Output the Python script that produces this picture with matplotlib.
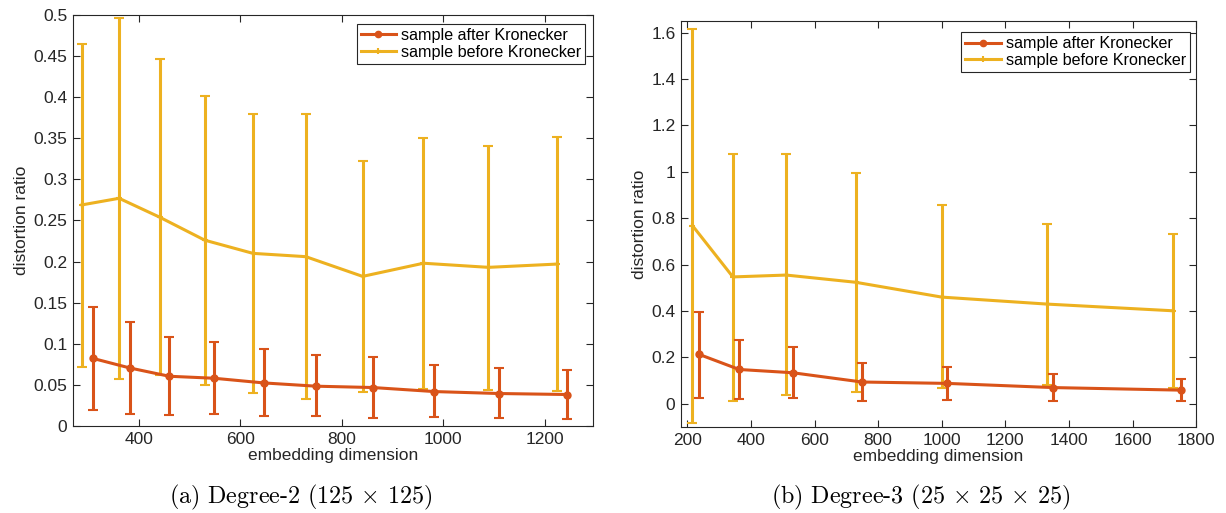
import matplotlib
matplotlib.use("Agg")
import numpy as np
from matplotlib import pyplot as plt
from matplotlib.lines import Line2D
from matplotlib.ticker import FuncFormatter

# Degree-2 (125 x 125)
deg2_dim_before = [288, 361, 441, 530, 625, 729, 841, 961, 1089, 1225]
deg2_mean_before = [0.269, 0.277, 0.254, 0.226, 0.210, 0.206, 0.182, 0.198, 0.193, 0.197]
deg2_hi_before = [0.4645, 0.4968, 0.4464, 0.4016, 0.3794, 0.3794, 0.3222, 0.3504, 0.3403, 0.3516]
deg2_lo_before = [0.0722, 0.0573, 0.0625, 0.0500, 0.0407, 0.0331, 0.0411, 0.0448, 0.0440, 0.0427]

deg2_dim_after = [309, 382, 460, 548, 646, 750, 861, 982, 1110, 1244]
deg2_mean_after = [0.0823, 0.0706, 0.0605, 0.0581, 0.0524, 0.0484, 0.0468, 0.0419, 0.0395, 0.0383]
deg2_hi_after = [0.1452, 0.1262, 0.1081, 0.1024, 0.0931, 0.0863, 0.0835, 0.0738, 0.0710, 0.0677]
deg2_lo_after = [0.0194, 0.0149, 0.0129, 0.0145, 0.0117, 0.0117, 0.0101, 0.0105, 0.0097, 0.0085]

# Degree-3 (25 x 25 x 25)
deg3_dim_before = [216, 343, 511, 729, 1000, 1330, 1728]
deg3_mean_before = [0.768, 0.547, 0.555, 0.524, 0.460, 0.430, 0.401]
deg3_hi_before = [1.617, 1.075, 1.075, 0.996, 0.855, 0.776, 0.732]
deg3_lo_before = [-0.082, 0.013, 0.036, 0.049, 0.069, 0.081, 0.068]

deg3_dim_after = [237, 363, 531, 749, 1018, 1351, 1751]
deg3_mean_after = [0.213, 0.148, 0.134, 0.094, 0.088, 0.070, 0.059]
deg3_hi_after = [0.397, 0.275, 0.246, 0.174, 0.157, 0.130, 0.109]
deg3_lo_after = [0.027, 0.020, 0.027, 0.012, 0.017, 0.012, 0.012]

red = '#D95319'
yellow = '#EDB120'
axcol = '#262626'

plt.rcParams['font.family'] = ['Liberation Sans', 'DejaVu Sans']
plt.rcParams['mathtext.fontset'] = 'cm'

fig = plt.figure(figsize=(12.26, 5.13), dpi=100)
ax1 = fig.add_axes([0.0595, 0.1696, 0.4241, 0.8012])
ax2 = fig.add_axes([0.5555, 0.1676, 0.4201, 0.7914])


def draw_err(ax, x, mean, lo, hi, color, marker, ms, z):
    mean = np.array(mean)
    err = [mean - np.array(lo), np.array(hi) - mean]
    ax.errorbar(x, mean, yerr=err, color=color, lw=2.2, marker=marker, ms=ms,
                mew=1.5, elinewidth=2.2, capsize=3.4, capthick=2.2, zorder=z)


draw_err(ax1, deg2_dim_before, deg2_mean_before, deg2_lo_before, deg2_hi_before,
         yellow, '+', 5, 2)
draw_err(ax1, deg2_dim_after, deg2_mean_after, deg2_lo_after, deg2_hi_after,
         red, 'o', 4.5, 3)
draw_err(ax2, deg3_dim_before, deg3_mean_before, deg3_lo_before, deg3_hi_before,
         yellow, '+', 5, 2)
draw_err(ax2, deg3_dim_after, deg3_mean_after, deg3_lo_after, deg3_hi_after,
         red, 'o', 4.5, 3)

ax1.set_xlim(270, 1295)
ax1.set_ylim(0, 0.5)
ax1.set_xticks([400, 600, 800, 1000, 1200])
ax1.set_yticks(np.arange(0, 0.501, 0.05))

ax2.set_xlim(180, 1800)
ax2.set_ylim(-0.1, 1.65)
ax2.set_xticks(np.arange(200, 1801, 200))
ax2.set_yticks(np.arange(0, 1.61, 0.2))

# plain line+marker handles for the legend
handles = [Line2D([], [], color=red, lw=2.2, marker='o', ms=4.5),
           Line2D([], [], color=yellow, lw=2.2, marker='+', ms=5, mew=1.5)]
labels = ['sample after Kronecker', 'sample before Kronecker']

fmt = FuncFormatter(lambda v, p: '%g' % round(v, 4))
for ax, anchor in ((ax1, (0.985, 0.978)), (ax2, (0.988, 0.972))):
    ax.yaxis.set_major_formatter(fmt)
    ax.tick_params(direction='in', top=True, right=True, length=5, width=0.8,
                   colors=axcol, labelsize=12.5, pad=4)
    for s in ax.spines.values():
        s.set_color(axcol)
        s.set_linewidth(0.8)
    ax.set_xlabel('embedding dimension', fontsize=12.5, color=axcol, labelpad=1)
    ax.set_ylabel('distortion ratio', fontsize=12.5, color=axcol, labelpad=3)
    leg = ax.legend(handles, labels, loc='upper right', bbox_to_anchor=anchor,
                    borderaxespad=0, fontsize=11.6, fancybox=False, framealpha=1,
                    edgecolor=axcol, handlelength=2.2, handletextpad=0.3,
                    labelspacing=0.1, borderpad=0.25)
    leg.get_frame().set_linewidth(0.8)

fig.text(0.2455, 0.03, r'(a) Degree-2 (125 $\times$ 125)', family='cmr10', fontsize=17.3,
         ha='center', va='center')
fig.text(0.751, 0.03, r'(b) Degree-3 (25 $\times$ 25 $\times$ 25)', family='cmr10',
         fontsize=17.3, ha='center', va='center')

fig.savefig('out.png', dpi=100)
